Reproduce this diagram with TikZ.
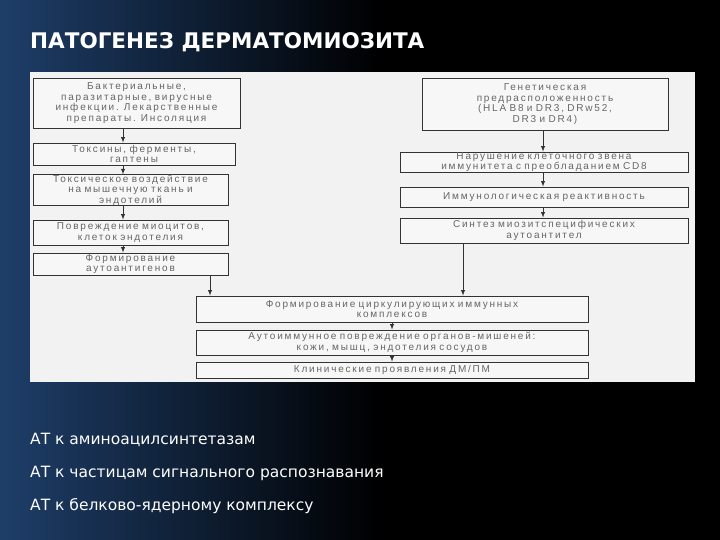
\documentclass[tikz,border=0pt]{standalone}
\usepackage{fontspec}
\setmainfont{Liberation Sans}
\newfontfamily\dejavu{DejaVu Sans}
\newfontfamily\wideface[LetterSpace=18]{Liberation Sans}
\newcommand\widespaces{\spaceskip=7pt plus 1pt\relax\xspaceskip=7pt plus 1pt\relax}
\begin{document}
\begin{tikzpicture}[x=1pt,y=-1pt,
  fc/.style={draw=black!80,line width=0.8pt,fill=white!94!gray,align=center,font=\wideface\fontsize{10}{10.5}\selectfont\widespaces,text=black!60,inner sep=0pt,minimum height=#1},
  fc/.default=20,
  arr/.style={-latex,line width=0.9pt,black!80},
  wt/.style={text=white,anchor=west,font=\dejavu\fontsize{15.5}{17}\selectfont}]
\useasboundingbox (0,0) rectangle (720,540);
\fill[black] (0,0) rectangle (720,540);
\shade[left color={rgb,255:red,30;green,62;blue,105},right color=black] (0,0) rectangle (380,540);
\fill[white!90!gray] (30,72) rectangle (695,382);
\node[text=white,anchor=west,inner sep=0pt,font=\dejavu\bfseries\fontsize{21.5}{24}\selectfont] (title) at (30,42) {ПАТОГЕНЕЗ ДЕРМАТОМИОЗИТА};
% left column
\node[fc=50,text width=207,minimum width=207] (b1) at (136.5,103) {Бактериальные,\\паразитарные, вирусные\\инфекции. Лекарственные\\препараты. Инсоляция};
\node[fc=22,text width=202,minimum width=202] (b2) at (134,154) {Токсины, ферменты,\\гаптены};
\node[fc=30,text width=195,minimum width=195] (b3) at (130.5,190) {Токсическое воздействие\\на мышечную ткань и\\эндотелий};
\node[fc=25,text width=195,minimum width=195] (b4) at (130.5,232.5) {Повреждение миоцитов,\\клеток эндотелия};
\node[fc=22,text width=195,minimum width=195] (b5) at (130.5,264) {Формирование\\аутоантигенов};
% right column
\node[fc=52,text width=246,minimum width=246] (r1) at (545,104) {Генетическая\\предрасположенность\\(HLA B8 и DR3, DRw52,\\DR3 и DR4)};
\node[fc=20,text width=288,minimum width=288] (r2) at (544,162) {Нарушение клеточного звена\\иммунитета с преобладанием CD8};
\node[fc=20,text width=288,minimum width=288] (r3) at (544,197) {Иммунологическая реактивность};
\node[fc=25,text width=288,minimum width=288] (r4) at (544,230.5) {Синтез миозитспецифических\\аутоантител};
% bottom
\node[fc=26,text width=392,minimum width=392] (b6) at (392,309) {Формирование циркулирующих иммунных\\комплексов};
\node[fc=25,text width=392,minimum width=392] (b7) at (392,342.5) {Аутоиммунное повреждение органов-мишеней:\\кожи, мышц, эндотелия сосудов};
\node[fc=16,text width=392,minimum width=392] (b8) at (392,370) {Клинические проявления ДМ/ПМ};
\draw[arr] (b1.south -| 123,0) -- (b2.north -| 123,0);
\draw[arr] (b2.south -| 123,0) -- (b3.north -| 123,0);
\draw[arr] (b3.south -| 123,0) -- (b4.north -| 123,0);
\draw[arr] (b4.south -| 123,0) -- (b5.north -| 123,0);
\draw[arr] (b5.south -| 210,0) -- (b6.north -| 210,0);
\draw[arr] (r1.south -| 543,0) -- (r2.north -| 543,0);
\draw[arr] (r2.south -| 543,0) -- (r3.north -| 543,0);
\draw[arr] (r3.south -| 543,0) -- (r4.north -| 543,0);
\draw[arr] (r4.south -| 463,0) -- (b6.north -| 463,0);
\draw[arr] (b6) -- (b7);
\draw[arr] (b7) -- (b8);
\node[wt,inner sep=0pt] (t1) at (30,440) {АТ к аминоацилсинтетазам};
\node[wt,inner sep=0pt] (t2) at (30,473) {АТ к частицам сигнального распознавания};
\node[wt,inner sep=0pt] (t3) at (30,506) {АТ к белково-ядерному комплексу};
\end{tikzpicture}
\end{document}
